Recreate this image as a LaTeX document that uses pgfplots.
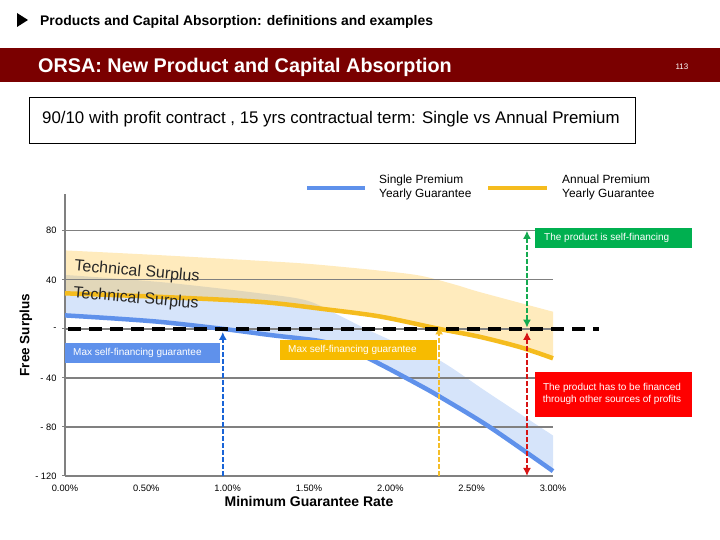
\documentclass[border=0pt]{standalone}
\usepackage{fontspec}
\setmainfont{Liberation Sans}
\usepackage{pgfplots}
\pgfplotsset{compat=1.18}
\usepgfplotslibrary{fillbetween}
\usetikzlibrary{arrows.meta}
\definecolor{bandred}{RGB}{122,0,0}
\definecolor{spblue}{RGB}{95,145,235}
\definecolor{apyellow}{RGB}{245,188,30}
\definecolor{bluefill}{RGB}{214,228,250}
\definecolor{yellowfill}{RGB}{255,188,38}
\definecolor{boxblue}{RGB}{95,145,235}
\definecolor{boxyellow}{RGB}{247,187,0}
\definecolor{boxgreen}{RGB}{0,176,80}
\definecolor{boxred}{RGB}{255,0,0}
\definecolor{arrblue}{RGB}{25,100,215}
\definecolor{arryellow}{RGB}{245,190,40}
\definecolor{arrgreen}{RGB}{20,170,80}
\definecolor{arrred}{RGB}{215,20,20}
\definecolor{gridgray}{RGB}{128,128,128}

\pgfplotstableread{
x y
0 11
0.3 8.5
0.6 5.5
0.97 0
1.26 -5
1.57 -10
1.75 -17
1.94 -29
2.18 -46
2.30 -55
2.61 -80
3.0 -116
}\singleline
\pgfplotstableread{
x y
0 44
0.6 38
1.2 29
1.49 23
1.7 10
1.85 0
2.05 -12
2.3 -25.5
2.6 -52
3.0 -87
}\singleupper
\pgfplotstableread{
x y
0 29
0.6 26
1.2 22
1.6 16
1.94 10
2.3 0
2.55 -6.5
2.8 -15
3.0 -24
}\annualline
\pgfplotstableread{
x y
0 64
0.6 60
1.2 55.5
1.5 53
1.9 48
2.18 43.5
2.4 36
2.55 30
3.0 14
}\annualupper

\begin{document}
\begin{tikzpicture}[x=1pt,y=1pt]
\path (0,0) rectangle (720,540);
% header
\fill[black] (17,527) -- (28,520) -- (17,513) -- cycle;
\node[anchor=base west, inner sep=0, font=\bfseries\fontsize{13.9}{15}\selectfont] at (40,514) {Products and Capital Absorption: definitions and examples};
\fill[bandred] (0,492) rectangle (720,458);
\node[anchor=base west, inner sep=0, text=white, font=\bfseries\fontsize{19.8}{22}\selectfont] at (38,467) {ORSA: New Product and Capital Absorption};
\node[anchor=base, inner sep=0, text=white, font=\fontsize{8}{9}\selectfont] at (682,470) {113};
\draw[black, line width=0.8pt] (29.5,443) rectangle (635,397);
\node[anchor=base west, inner sep=0, font=\fontsize{16.85}{18}\selectfont] at (42,416) {90/10 with profit contract , 15 yrs contractual term: Single vs Annual Premium};
% legend
\draw[spblue, line width=4.5pt] (307,352) -- (365,352);
\node[anchor=base west, inner sep=0, font=\fontsize{11.9}{13}\selectfont] at (379,356) {Single Premium};
\node[anchor=base west, inner sep=0, font=\fontsize{11.9}{13}\selectfont] at (379,342) {Yearly Guarantee};
\draw[apyellow, line width=4.5pt] (488,352) -- (547,352);
\node[anchor=base west, inner sep=0, font=\fontsize{11.9}{13}\selectfont] at (562,356) {Annual Premium};
\node[anchor=base west, inner sep=0, font=\fontsize{11.9}{13}\selectfont] at (562,342) {Yearly Guarantee};

\begin{axis}[
  at={(65pt,64pt)}, anchor=south west,
  width=488pt, height=282pt, scale only axis,
  xmin=0, xmax=3, ymin=-120, ymax=110,
  clip=false,
  set layers,
  fill between/on layer=axis background,
  axis x line*=bottom, axis y line*=left,
  axis line style={gridgray, line width=1.3pt, -},
  ymajorgrids, grid style={gridgray, line width=1.3pt},
  ytick={-120,-80,-40,0,40,80},
  yticklabels={- 120,- 80,- 40,-,40,80},
  xtick={0,0.5,1,1.5,2,2.5,3},
  xticklabels={0.00\%,0.50\%,1.00\%,1.50\%,2.00\%,2.50\%,3.00\%},
  x tick style={draw=none},
  y tick style={gridgray, line width=1pt},
  tick align=outside, major tick length=3pt,
  tick label style={font=\fontsize{9.3}{10}\selectfont},
  xticklabel style={yshift=-2.5pt},
  yticklabel style={xshift=-2pt},
]
\addplot[name path=bu, draw=none, smooth] table {\singleupper};
\addplot[name path=bl, spblue, line width=4.5pt, smooth] table {\singleline};
\addplot[name path=yu, draw=none, smooth] table {\annualupper};
\addplot[name path=yl, apyellow, line width=4.5pt, smooth] table {\annualline};
\addplot[bluefill] fill between[of=bu and bl];
\addplot[yellowfill, fill opacity=0.3] fill between[of=yu and yl];
% zero dashed line
\addplot[black, line width=3.5pt, dash pattern=on 13pt off 8pt] coordinates {(0.02,0) (3.28,0)};
% arrows
\addplot[arrblue, line width=2.4pt, dash pattern=on 5pt off 2pt, -{Latex[length=8pt,width=8pt]}] coordinates {(0.97,-120) (0.97,-2.5)};
\addplot[arryellow, line width=2.4pt, dash pattern=on 5pt off 2pt, -{Latex[length=8pt,width=8pt]}] coordinates {(2.30,-120) (2.30,2)};
\addplot[arrgreen, line width=2.4pt, dash pattern=on 5pt off 2pt, {Latex[length=8pt,width=8pt]}-{Latex[length=8pt,width=8pt]}] coordinates {(2.84,80) (2.84,1)};
\addplot[arrred, line width=2.4pt, dash pattern=on 5pt off 2pt, {Latex[length=8pt,width=8pt]}-{Latex[length=8pt,width=8pt]}] coordinates {(2.84,-2.5) (2.84,-120)};
\end{axis}

% axis titles
\node[rotate=90, font=\bfseries\fontsize{13.5}{15}\selectfont] at (26,205) {Free Surplus};
\node[anchor=base, inner sep=0, font=\bfseries\fontsize{14}{16}\selectfont] at (309,33) {Minimum Guarantee Rate};
% technical surplus labels
\node[rotate=-5, font=\fontsize{16}{18}\selectfont, text=black!85] at (137,268) {Technical Surplus};
\node[rotate=-5, font=\fontsize{16}{18}\selectfont, text=black!85] at (136,241) {Technical Surplus};
% boxes
\fill[boxblue] (65,197) rectangle (220,177);
\node[anchor=west, inner sep=0, text=white, font=\fontsize{10}{11}\selectfont] at (73,187) {Max self-financing guarantee};
\fill[boxyellow] (280,200) rectangle (437,180);
\node[anchor=west, inner sep=0, text=white, font=\fontsize{10}{11}\selectfont] at (288,190) {Max self-financing guarantee};
\fill[boxgreen] (535,312) rectangle (692,292);
\node[anchor=west, inner sep=0, text=white, font=\fontsize{10}{11}\selectfont] at (544,302) {The product is self-financing};
\fill[boxred] (535,168) rectangle (692,123);
\node[align=center, inner sep=0, text=white, font=\fontsize{10}{12}\selectfont] at (612,146) {The product has to be financed\\through other sources of profits};
\end{tikzpicture}
\end{document}
